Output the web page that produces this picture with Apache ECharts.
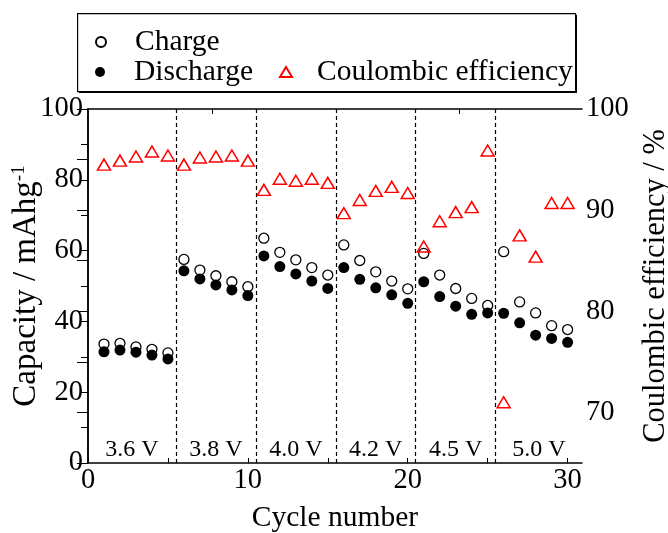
<!DOCTYPE html>
<html><head><meta charset="utf-8">
<script src="https://cdn.jsdelivr.net/npm/echarts@6/dist/echarts.min.js"></script>
<style>html,body{margin:0;padding:0;background:#fff}#c{width:668px;height:533px}</style>
</head><body><div id="c"></div>
<script>
const cycles = [1,2,3,4,5,6,7,8,9,10,11,12,13,14,15,16,17,18,19,20,21,22,23,24,25,26,27,28,29,30];
const charge = [33.6,33.8,32.8,32.1,31.1,57.5,54.5,52.9,51.2,49.8,63.5,59.5,57.4,55.2,53.1,61.6,57.2,54.0,51.4,49.2,59.2,53.1,49.3,46.5,44.5,59.7,45.5,42.4,38.8,37.7];
const discharge = [31.4,31.9,31.3,30.5,29.4,54.3,52.0,50.3,48.9,47.3,58.5,55.5,53.4,51.4,49.3,55.2,51.9,49.5,47.5,45.1,51.2,47.0,44.3,42.0,42.4,42.3,39.6,36.1,35.2,34.1];
const efficiency = [94.5,94.9,95.3,95.8,95.4,94.5,95.2,95.3,95.4,94.9,92.0,93.1,92.9,93.1,92.7,89.7,91.0,91.9,92.3,91.7,86.4,88.9,89.8,90.3,95.9,71.0,87.5,85.4,90.7,90.7];
const boundaries = [5.5,10.5,15.5,20.5,25.5];
const voltageLabels = ['3.6 V','3.8 V','4.0 V','4.2 V','4.5 V','5.0 V'];
const xMin = 0, xMax = 30.9;
const xLabelTicks = [0,10,20,30];
const xTicks = [0,5,10,15,20,25,30];
const topTicks = [7.8,23.2];

const F = 'Liberation Serif, Times New Roman, serif';
const edges = [xMin].concat(boundaries, [xMax]);
const areas = voltageLabels.map((t,i)=>[{xAxis:edges[i], name:t},{xAxis:edges[i+1]}]);
const legendText = (pad)=>({fontFamily:F, fontSize:29.5, color:'#000', padding:[0,0,0,pad], lineHeight:30});

const chart = echarts.init(document.getElementById('c'));
chart.setOption({
  animation:false,
  textStyle:{fontFamily:F, color:'#000'},
  grid:{left:88, right:86, top:109, bottom:70, outerBoundsMode:'none', containLabel:false},
  legend:[
    {data:['Charge'], left:90, top:22, itemWidth:10, itemHeight:10, textStyle:legendText(24)},
    {data:['Discharge'], left:90, top:52, itemWidth:10, itemHeight:10, textStyle:legendText(24)},
    {data:['Coulombic efficiency'], left:274, top:52, itemWidth:12, itemHeight:10, textStyle:legendText(20)}
  ],
  graphic:[
    {type:'rect', left:79, top:15, shape:{width:498, height:78}, style:{fill:'#000'}, z:-2},
    {type:'rect', left:77, top:13, shape:{width:498, height:78}, style:{fill:'#fff', stroke:'#000', lineWidth:1.2}, z:-1}
  ],
  xAxis:[
    {type:'value', min:xMin, max:xMax, position:'bottom',
     name:'Cycle number', nameLocation:'middle', nameGap:40, nameMoveOverlap:false, nameTextStyle:{fontFamily:F, fontSize:29.5, color:'#000'},
     axisLine:{lineStyle:{color:'#000', width:1.5}},
     axisTick:{inside:true, length:5, customValues:xTicks, lineStyle:{color:'#000'}},
     axisLabel:{customValues:xLabelTicks, margin:3, fontFamily:F, fontSize:28.5, color:'#000'},
     splitLine:{show:false}},
    {type:'value', min:xMin, max:xMax, position:'top',
     axisLine:{lineStyle:{color:'#000', width:1.5}},
     axisTick:{inside:true, length:5, customValues:topTicks, lineStyle:{color:'#000'}},
     axisLabel:{show:false}, splitLine:{show:false}}
  ],
  yAxis:[
    {type:'value', min:0, max:100, interval:10, position:'left',
     name:'{b|Capacity / mAhg}{s|-1}', nameLocation:'middle', nameRotate:90, nameGap:45, nameMoveOverlap:false,
     nameTextStyle:{fontFamily:F, fontSize:33, color:'#000', rich:{b:{fontFamily:F, fontSize:33, color:'#000', lineHeight:33, verticalAlign:'bottom'}, s:{fontFamily:F, fontSize:19, color:'#000', lineHeight:33, verticalAlign:'top', padding:[0,0,13,0]}}},
     axisLine:{lineStyle:{color:'#000', width:1.5}},
     axisTick:{inside:false, length:7, lineStyle:{color:'#000'}},
     axisLabel:{margin:5, fontFamily:F, fontSize:28.5, color:'#000', formatter:v=> (v%20===0? String(v):'')},
     splitLine:{show:false}},
    {type:'value', min:65, max:100, interval:5, position:'right',
     name:'Coulombic efficiency / %', nameLocation:'middle', nameRotate:90, nameGap:58, nameMoveOverlap:false,
     nameTextStyle:{fontFamily:F, fontSize:30.5, color:'#000'},
     axisLine:{lineStyle:{color:'#000', width:1.5}},
     axisTick:{inside:true, length:11, lineStyle:{color:'#000'}},
     axisLabel:{margin:4, fontFamily:F, fontSize:28.5, color:'#000', formatter:v=> (v%10===0? String(v):'')},
     splitLine:{show:false}}
  ],
  series:[
    {name:'Charge', type:'scatter', symbol:'circle', symbolSize:10, data:cycles.map((c,i)=>[c,charge[i]]),
     itemStyle:{color:'#fff', borderColor:'#000', borderWidth:1.3, opacity:1}, z:3,
     markLine:{silent:true, symbol:'none', label:{show:false}, lineStyle:{color:'#000', type:[4,3], width:1.2}, data:boundaries.map(b=>({xAxis:b}))},
     markArea:{silent:true, itemStyle:{color:'rgba(0,0,0,0)'}, label:{show:true, position:'insideBottom', distance:1, fontFamily:F, fontSize:24, color:'#000'}, data:areas}
    },
    {name:'Discharge', type:'scatter', symbol:'circle', symbolSize:11, data:cycles.map((c,i)=>[c,discharge[i]]),
     itemStyle:{color:'#000', opacity:1}, z:4},
    {name:'Coulombic efficiency', type:'scatter', yAxisIndex:1, symbol:'triangle', symbolSize:[13,11], data:cycles.map((c,i)=>[c,efficiency[i]]),
     itemStyle:{color:'rgba(255,255,255,0)', borderColor:'#f00', borderWidth:1.5, opacity:1}, z:5}
  ]
});
</script></body></html>
